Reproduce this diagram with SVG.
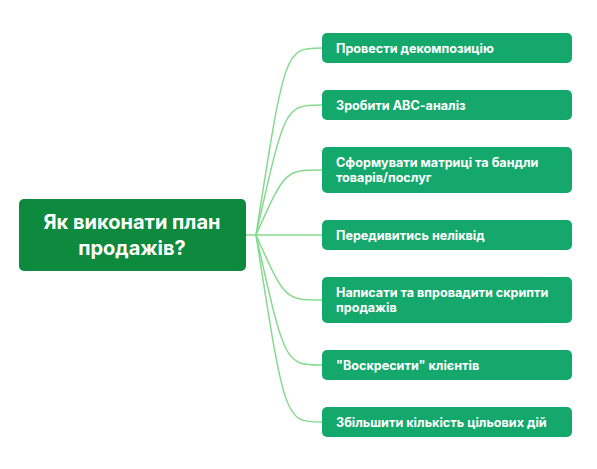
<svg xmlns="http://www.w3.org/2000/svg" width="597" height="469" viewBox="0 0 597 469">
<style>
.conn{fill:none;stroke:#86da8f;stroke-width:1.5}
.leaf rect{fill:#14a86c}
.leaf text{fill:#fff;font-family:Inter,"Noto Sans",sans-serif;font-weight:700;font-size:12.6px}
.root rect{fill:#0d8a3d}
.root text{fill:#fff;font-family:Inter,"Noto Sans",sans-serif;font-weight:700;font-size:20px;text-anchor:middle}
</style>
<rect width="597" height="469" fill="#fff"/>
<g id="connectors">
<path class="conn" d="M246,235 L256,235 C285,48 285,48 322,48"/>
<path class="conn" d="M256,235 C285,105 285,105 322,105"/>
<path class="conn" d="M256,235 C285,170 285,170 322,170"/>
<path class="conn" d="M256,235 L322,235"/>
<path class="conn" d="M256,235 C285,300 285,300 322,300"/>
<path class="conn" d="M256,235 C285,365 285,365 322,365"/>
<path class="conn" d="M256,235 C285,422 285,422 322,422"/>
</g>
<g id="root" class="root">
<rect x="19" y="199" width="227" height="72" rx="5"/>
<text x="132" y="229">Як виконати план</text>
<text x="132" y="255">продажів?</text>
</g>
<g id="n1" class="leaf"><rect x="322" y="33" width="250" height="30" rx="5"/><text x="336" y="52.5">Провести декомпозицію</text></g>
<g id="n2" class="leaf"><rect x="322" y="90" width="250" height="30" rx="5"/><text x="336" y="109.5">Зробити АВС-аналіз</text></g>
<g id="n3" class="leaf"><rect x="322" y="147" width="250" height="46" rx="5"/><text x="336" y="167">Сформувати матриці та бандли</text><text x="336" y="182">товарів/послуг</text></g>
<g id="n4" class="leaf"><rect x="322" y="220" width="250" height="30" rx="5"/><text x="336" y="239.5">Передивитись неліквід</text></g>
<g id="n5" class="leaf"><rect x="322" y="277" width="250" height="46" rx="5"/><text x="336" y="297">Написати та впровадити скрипти</text><text x="336" y="312">продажів</text></g>
<g id="n6" class="leaf"><rect x="322" y="350" width="250" height="30" rx="5"/><text x="336" y="369.5">"Воскресити" клієнтів</text></g>
<g id="n7" class="leaf"><rect x="322" y="407" width="250" height="30" rx="5"/><text x="336" y="426.5">Збільшити кількість цільових дій</text></g>
</svg>
